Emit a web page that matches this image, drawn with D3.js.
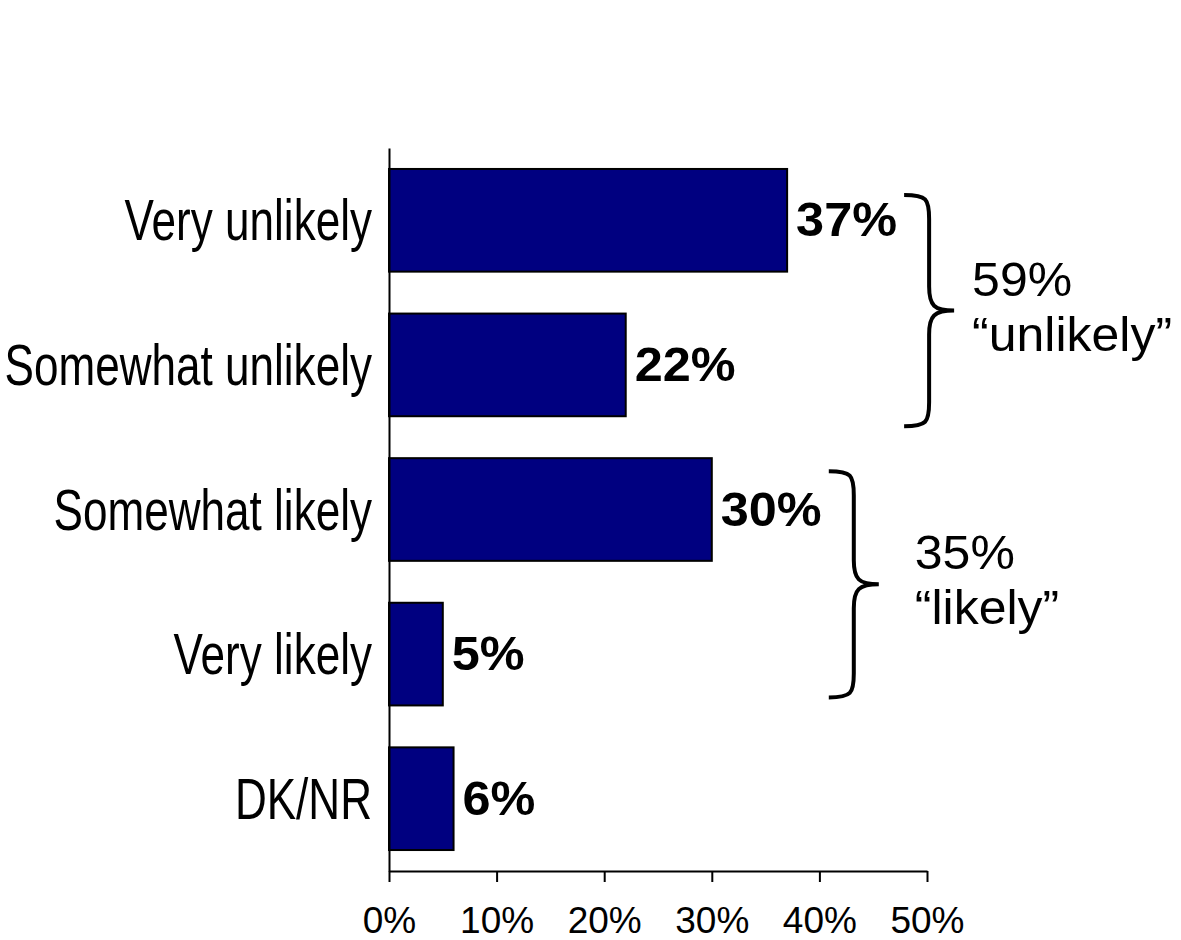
<!DOCTYPE html>
<html>
<head>
<meta charset="utf-8">
<script src="https://cdn.jsdelivr.net/npm/d3@7"></script>
<style>
  body { margin: 0; background: #fff; }
  text { font-family: "Liberation Sans", Arial, sans-serif; fill: #000; }
</style>
</head>
<body>
<script>
// chart values
var categories = ["Very unlikely", "Somewhat unlikely", "Somewhat likely", "Very likely", "DK/NR"];
var values = [37, 22, 30, 5, 6];
var tickValues = [0, 10, 20, 30, 40, 50];
var groupTotals = ["59%", "35%"];
var groupNames = ["\u201Cunlikely\u201D", "\u201Clikely\u201D"];
var groupRanges = [[0, 1], [2, 3]];

var width = 1181, height = 940;

var svg = d3.select("body").append("svg")
    .attr("width", width)
    .attr("height", height);

var x = d3.scaleLinear().domain([0, 50]).range([389, 927]);
var y = d3.scaleBand().domain(categories).range([148, 871])
    .paddingInner(0.29).paddingOuter(0.145);
var bw = y.bandwidth();

// place text with a horizontal squeeze/stretch
function placeText(sel, tx, ty, sx) {
    sel.attr("transform", "translate(" + tx + "," + ty + ") scale(" + sx + ",1)");
}

// bars
svg.selectAll(".bar")
    .data(values)
    .enter()
    .append("rect")
    .attr("class", "bar")
    .attr("x", x(0))
    .attr("y", function(d, i) { return y(categories[i]); })
    .attr("width", function(d) { return x(d) - x(0); })
    .attr("height", bw)
    .attr("fill", "#000080")
    .attr("stroke", "#000")
    .attr("stroke-width", 2);

// value labels
svg.selectAll(".val")
    .data(values)
    .enter()
    .append("text")
    .attr("class", "val")
    .style("font-size", "48px")
    .style("font-weight", "bold")
    .text(function(d) { return d + "%"; })
    .each(function(d, i) {
        placeText(d3.select(this), x(d) + 9, y(categories[i]) + bw / 2 + 16, 1.05);
    });

// category labels (condensed face in the original)
svg.selectAll(".cat")
    .data(categories)
    .enter()
    .append("text")
    .attr("class", "cat")
    .attr("text-anchor", "end")
    .style("font-size", "58px")
    .text(function(d) { return d; })
    .each(function(d) {
        placeText(d3.select(this), 372, y(d) + bw / 2 + 20, 0.76);
    });

// x axis
var xAxis = svg.append("g")
    .attr("transform", "translate(0,871)")
    .call(d3.axisBottom(x).tickValues(tickValues)
        .tickFormat(function(d) { return d + "%"; })
        .tickSize(11).tickSizeOuter(0));
xAxis.select(".domain").attr("stroke", "#000").attr("stroke-width", 2);
xAxis.selectAll(".tick line").attr("stroke", "#000").attr("stroke-width", 2);
xAxis.selectAll(".tick text")
    .attr("y", 62)
    .attr("dy", null)
    .style("font-size", "37px")
    .style("font-family", "'Liberation Sans', Arial, sans-serif")
    .attr("fill", "#000");

// y axis line
var yAxis = svg.append("g")
    .attr("transform", "translate(389,0)")
    .call(d3.axisLeft(y).tickSize(0).tickFormat(""));
yAxis.select(".domain").attr("stroke", "#000").attr("stroke-width", 2);

// curly braces
function bracePath(x0, y0, y1, w) {
    var mid = (y0 + y1) / 2;
    var xm = x0 + w * 0.5;
    var r = 24;
    return "M" + x0 + "," + y0 +
        " C" + (x0 + w * 0.45) + "," + y0 + " " + xm + "," + (y0 + 4) + " " + xm + "," + (y0 + r) +
        " L" + xm + "," + (mid - r) +
        " C" + xm + "," + (mid - 5) + " " + (x0 + w * 0.6) + "," + mid + " " + (x0 + w) + "," + mid +
        " C" + (x0 + w * 0.6) + "," + mid + " " + xm + "," + (mid + 5) + " " + xm + "," + (mid + r) +
        " L" + xm + "," + (y1 - r) +
        " C" + xm + "," + (y1 - 4) + " " + (x0 + w * 0.45) + "," + y1 + " " + x0 + "," + y1;
}

var braceTop = [26, 13], braceBottom = [10, -8], braceText = [18, 36];
groupRanges.forEach(function(rg, i) {
    var a = rg[0], b = rg[1];
    var maxVal = d3.max(values.slice(a, b + 1));
    var bx = x(maxVal) + 117;
    var w = 50;
    var top = y(categories[a]) + braceTop[i];
    var bot = y(categories[b]) + bw + braceBottom[i];
    var mid = (top + bot) / 2;
    svg.append("path")
        .attr("d", bracePath(bx, top, bot, w))
        .attr("fill", "none")
        .attr("stroke", "#000")
        .attr("stroke-width", 4);
    var tx = bx + w + braceText[i];
    var t1 = svg.append("text").style("font-size", "49px").text(groupTotals[i]);
    placeText(t1, tx, mid - 15, 1.02);
    var t2 = svg.append("text").style("font-size", "49px").text(groupNames[i]);
    placeText(t2, tx, mid + 40, 1.02);
});
</script>
</body>
</html>
